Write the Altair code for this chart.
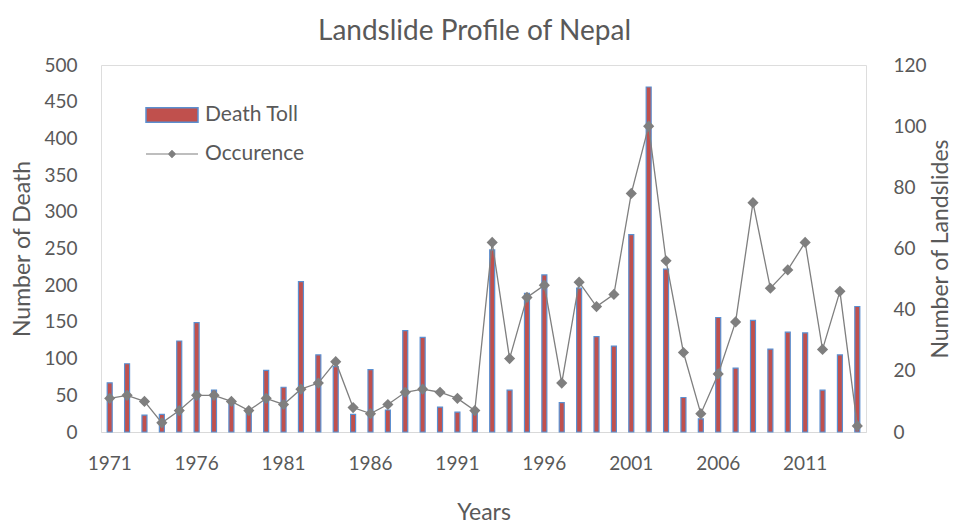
import altair as alt
import pandas as pd

years = [1971, 1972, 1973, 1974, 1975, 1976, 1977, 1978, 1979, 1980,
         1981, 1982, 1983, 1984, 1985, 1986, 1987, 1988, 1989, 1990,
         1991, 1992, 1993, 1994, 1995, 1996, 1997, 1998, 1999, 2000,
         2001, 2002, 2003, 2004, 2005, 2006, 2007, 2008, 2009, 2010,
         2011, 2012, 2013, 2014]
death_toll = [67, 93, 23, 24, 124, 149, 57, 42, 29, 84,
              61, 205, 105, 89, 24, 85, 30, 138, 129, 34,
              27, 29, 248, 57, 189, 214, 40, 196, 130, 117,
              269, 470, 222, 47, 18, 156, 87, 152, 113, 136,
              135, 57, 105, 171]
occurrence = [11, 12, 10, 3, 7, 12, 12, 10, 7, 11,
              9, 14, 16, 23, 8, 6, 9, 13, 14, 13,
              11, 7, 62, 24, 44, 48, 16, 49, 41, 45,
              78, 100, 56, 26, 6, 19, 36, 75, 47, 53,
              62, 27, 46, 2]
x_tick_labels = [1971, 1976, 1981, 1986, 1991, 1996, 2001, 2006, 2011]
left_ticks = [0, 50, 100, 150, 200, 250, 300, 350, 400, 450, 500]
right_ticks = [0, 20, 40, 60, 80, 100, 120]

df = pd.DataFrame({
    "year": years,
    "deaths": death_toll,
    "occ": occurrence,
    "s1": ["Death Toll"] * len(years),
    "s2": ["Occurence"] * len(years),
})

FONT = "Lato"
TXT = "#595959"
W, H = 765, 367

xenc = alt.X("year:O",
             scale=alt.Scale(paddingInner=0, paddingOuter=0),
             axis=alt.Axis(values=x_tick_labels, labelAngle=0, ticks=False,
                           labelPadding=22, labelFontSize=19, labelFont=FONT,
                           labelColor=TXT, domainColor="#D9D9D9",
                           title="Years", titleFont=FONT, titleFontSize=23,
                           titleFontWeight="normal", titleColor=TXT,
                           titleX=W / 2, titleY=80, titleBaseline="middle",
                           titleAlign="center"))

bars = alt.Chart(df).mark_bar(width=5, stroke="#5B8FD0", strokeWidth=1.2).encode(
    x=xenc,
    y=alt.Y("deaths:Q", scale=alt.Scale(domain=[0, 500]),
            axis=alt.Axis(values=left_ticks, grid=False, domain=False, ticks=False,
                          labelPadding=24, labelFontSize=19, labelFont=FONT,
                          labelColor=TXT,
                          title="Number of Death", titleFont=FONT, titleFontSize=23,
                          titleFontWeight="normal", titleColor=TXT,
                          titleAngle=-90, titleX=-79, titleY=H / 2,
                          titleBaseline="middle", titleAlign="center")),
    fill=alt.Fill("s1:N",
                  scale=alt.Scale(domain=["Death Toll"], range=["#C0504D"]),
                  legend=alt.Legend(title=None, orient="none", legendX=44, legendY=23,
                                    padding=0,
                                    symbolType="M-1,-0.28L1,-0.28L1,0.28L-1,0.28Z",
                                    symbolSize=2704, symbolStrokeColor="#5B8FD0",
                                    symbolStrokeWidth=1.5, labelOffset=6,
                                    labelFontSize=21, labelFont=FONT, labelColor=TXT)),
)

line = alt.Chart(df).mark_line(
    strokeWidth=1.3,
    point=alt.OverlayMarkDef(shape="diamond", filled=True, size=70,
                             fill="#7F7F7F", opacity=1),
).encode(
    x=xenc,
    y=alt.Y("occ:Q", scale=alt.Scale(domain=[0, 120]),
            axis=alt.Axis(orient="right", values=right_ticks, grid=False, domain=False,
                          ticks=False, labelPadding=27, labelFontSize=19,
                          labelFont=FONT, labelColor=TXT,
                          title="Number of Landslides", titleFont=FONT,
                          titleFontSize=23, titleFontWeight="normal", titleColor=TXT,
                          titleAngle=-90, titleX=74, titleY=H / 2,
                          titleBaseline="middle", titleAlign="center")),
    stroke=alt.Stroke("s2:N",
                      scale=alt.Scale(domain=["Occurence"], range=["#7F7F7F"]),
                      legend=alt.Legend(title=None, orient="none", legendX=44, legendY=62,
                                        padding=0,
                                        symbolType="M-1,0L1,0M0,-0.13L0.13,0L0,0.13L-0.13,0Z",
                                        symbolSize=2704, symbolFillColor="#7F7F7F",
                                        symbolStrokeWidth=1.2, labelOffset=6,
                                        labelFontSize=21, labelFont=FONT,
                                        labelColor=TXT)),
)

chart = alt.layer(bars, line).resolve_scale(
    y="independent", fill="independent", stroke="independent"
).properties(
    width=W, height=H,
    title=alt.TitleParams("Landslide Profile of Nepal", fontSize=28, font=FONT,
                          fontWeight="normal", color=TXT, anchor="middle",
                          offset=10, dx=-9),
    autosize=alt.AutoSizeParams(type="none"),
    padding={"left": 101, "top": 65, "right": 90, "bottom": 99},
).configure_view(stroke="#D9D9D9", strokeWidth=1).configure(background="white")

chart.save("out.html", embed_options={"renderer": "svg", "actions": False})
